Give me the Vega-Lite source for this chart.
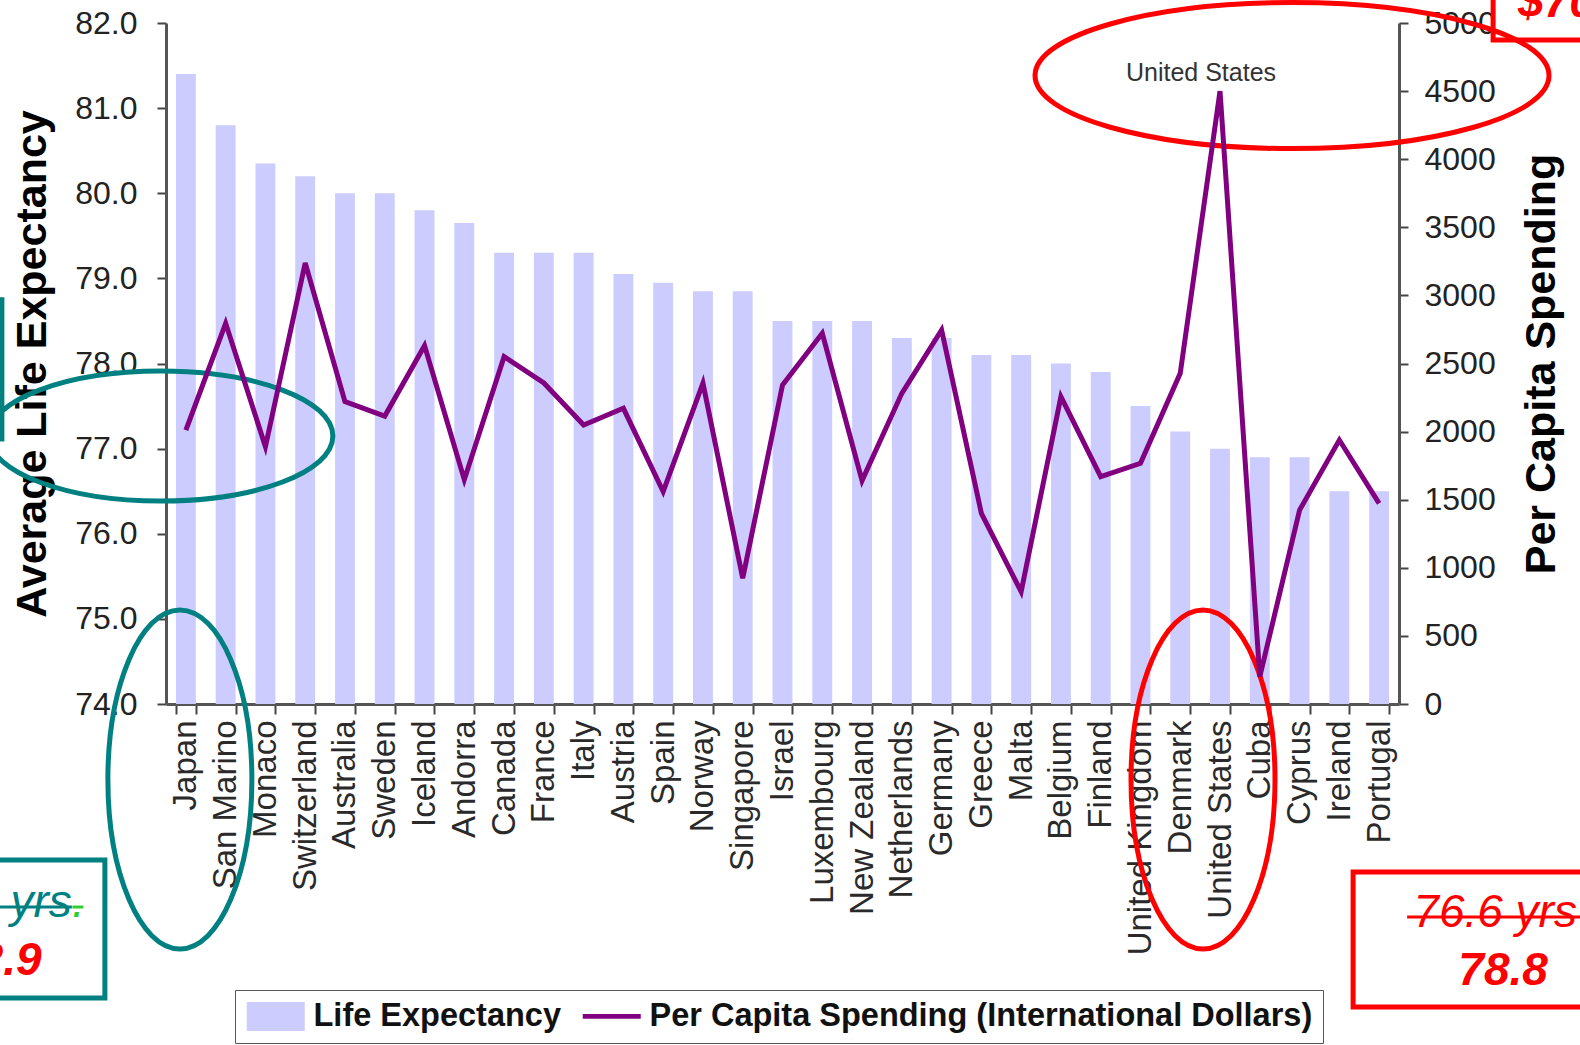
{
  "$schema": "https://vega.github.io/schema/vega-lite/v6.json",
  "width": 1233,
  "height": 681,
  "autosize": {"type": "none"},
  "padding": {"left": 166, "top": 23, "right": 181, "bottom": 341},
  "background": "#ffffff",
  "config": {"view": {"stroke": null}, "font": "Liberation Sans", "axis": {"grid": false}},
  "datasets": {
    "countries": [
      {"country": "Japan", "life": 81.4, "spend": 2010},
      {"country": "San Marino", "life": 80.8, "spend": 2795},
      {"country": "Monaco", "life": 80.35, "spend": 1889},
      {"country": "Switzerland", "life": 80.2, "spend": 3238},
      {"country": "Australia", "life": 80.0, "spend": 2220},
      {"country": "Sweden", "life": 80.0, "spend": 2114},
      {"country": "Iceland", "life": 79.8, "spend": 2631},
      {"country": "Andorra", "life": 79.65, "spend": 1647},
      {"country": "Canada", "life": 79.3, "spend": 2550},
      {"country": "France", "life": 79.3, "spend": 2357},
      {"country": "Italy", "life": 79.3, "spend": 2048},
      {"country": "Austria", "life": 79.05, "spend": 2171},
      {"country": "Spain", "life": 78.95, "spend": 1559},
      {"country": "Norway", "life": 78.85, "spend": 2355},
      {"country": "Singapore", "life": 78.85, "spend": 923},
      {"country": "Israel", "life": 78.5, "spend": 2342},
      {"country": "Luxembourg", "life": 78.5, "spend": 2722},
      {"country": "New Zealand", "life": 78.5, "spend": 1640},
      {"country": "Netherlands", "life": 78.3, "spend": 2281},
      {"country": "Germany", "life": 78.3, "spend": 2746},
      {"country": "Greece", "life": 78.1, "spend": 1400},
      {"country": "Malta", "life": 78.1, "spend": 825},
      {"country": "Belgium", "life": 78.0, "spend": 2256},
      {"country": "Finland", "life": 77.9, "spend": 1669},
      {"country": "United Kingdom", "life": 77.5, "spend": 1767},
      {"country": "Denmark", "life": 77.2, "spend": 2428},
      {"country": "United States", "life": 77.0, "spend": 4500},
      {"country": "Cuba", "life": 76.9, "spend": 200},
      {"country": "Cyprus", "life": 76.9, "spend": 1424},
      {"country": "Ireland", "life": 76.5, "spend": 1938},
      {"country": "Portugal", "life": 76.5, "spend": 1473}
    ]
  },
  "layer": [
    {
      "layer": [
        {
          "data": {"name": "countries"},
          "mark": {"type": "bar", "color": "#CCCCFF"},
          "encoding": {
            "x": {
              "field": "country", "type": "nominal", "sort": null, "title": null,
              "scale": {
                "domain": ["Japan","San Marino","Monaco","Switzerland","Australia","Sweden","Iceland","Andorra","Canada","France","Italy","Austria","Spain","Norway","Singapore","Israel","Luxembourg","New Zealand","Netherlands","Germany","Greece","Malta","Belgium","Finland","United Kingdom","Denmark","United States","Cuba","Cyprus","Ireland","Portugal"],
                "paddingInner": 0.5, "paddingOuter": 0.25
              },
              "axis": {
                "labelAngle": -90, "labelFontSize": 33, "labelColor": "#2a2a2a",
                "labelPadding": 6, "labelLimit": 400, "labelOverlap": false,
                "tickBand": "extent", "tickSize": 10, "tickWidth": 2, "tickColor": "#444444",
                "domainColor": "#555555", "domainWidth": 3
              }
            },
            "y": {
              "field": "life", "type": "quantitative", "title": "Average Life Expectancy",
              "scale": {"domain": [74, 82], "zero": false, "nice": false},
              "axis": {
                "orient": "left", "titleFontSize": 43, "titleFontWeight": "bold",
                "titleColor": "#000000", "titlePadding": 20,
                "values": [74, 75, 76, 77, 78, 79, 80, 81, 82], "format": ".1f",
                "labelFontSize": 32, "labelColor": "#222222", "labelPadding": 20,
                "tickSize": 9, "tickWidth": 2, "tickColor": "#444444",
                "domainColor": "#555555", "domainWidth": 3
              }
            },
            "y2": {"datum": 74},
            "color": {
              "datum": "Life Expectancy",
              "scale": {"domain": ["Life Expectancy", "Per Capita Spending (International Dollars)"], "range": ["#CCCCFF", "#800080"]},
              "legend": {
                "title": null, "orient": "none", "legendX": 69, "legendY": 967, "direction": "horizontal",
                "labelFontSize": 32.5, "labelFontWeight": "bold", "labelColor": "#111111", "labelLimit": 900,
                "symbolSize": 841, "labelOffset": 36, "columnPadding": 20, "padding": 10,
                "strokeColor": "#555555", "fillColor": "#ffffff",
                "encode": {
                  "symbols": {
                    "update": {
                      "shape": {"signal": "datum.value === 'Life Expectancy' ? 'M-1,-1L3,-1L3,1L-1,1Z' : 'M-1,-0.17L3,-0.17L3,0.17L-1,0.17Z'"},
                      "fill": {"signal": "datum.value === 'Life Expectancy' ? '#CCCCFF' : '#800080'"},
                      "fillOpacity": {"value": 1},
                      "strokeWidth": {"value": 0},
                      "opacity": {"value": 1}
                    }
                  }
                }
              }
            }
          }
        },
        {
          "data": {"values": [{"country": "United States", "life": 81.32, "label": "United States"}]},
          "mark": {"type": "text", "fontSize": 25, "color": "#333333", "align": "center", "baseline": "alphabetic", "dx": -19},
          "encoding": {
            "x": {"field": "country", "type": "nominal", "title": null},
            "y": {"field": "life", "type": "quantitative", "title": "Average Life Expectancy"},
            "text": {"field": "label"}
          }
        },
        {
          "data": {"values": [{"country": "United States", "life": 81.382}]},
          "mark": {"type": "point", "shape": "M-1,0C-1,-0.157,-0.552,-0.284,0,-0.284C0.552,-0.284,1,-0.157,1,0C1,0.157,0.552,0.284,0,0.284C-0.552,0.284,-1,0.157,-1,0Z", "size": 264196, "filled": false, "stroke": "#FF0000", "strokeWidth": 5, "opacity": 1, "xOffset": 72},
          "encoding": {"x": {"field": "country", "type": "nominal", "title": null}, "y": {"field": "life", "type": "quantitative", "title": "Average Life Expectancy"}}
        },
        {
          "data": {"values": [{"country": "Japan", "life": 77.148}]},
          "mark": {"type": "point", "shape": "M-1,0C-1,-0.209,-0.552,-0.378,0,-0.378C0.552,-0.378,1,-0.209,1,0C1,0.209,0.552,0.378,0,0.378C-0.552,0.378,-1,0.209,-1,0Z", "size": 118336, "filled": false, "stroke": "#008080", "strokeWidth": 5, "opacity": 1, "xOffset": -25},
          "encoding": {"x": {"field": "country", "type": "nominal", "title": null}, "y": {"field": "life", "type": "quantitative", "title": "Average Life Expectancy"}}
        },
        {
          "data": {"values": [{"country": "Japan", "life": 73.113}]},
          "mark": {"type": "point", "shape": "M-1,0C-1,-1.3,-0.552,-2.354,0,-2.354C0.552,-2.354,1,-1.3,1,0C1,1.3,0.552,2.354,0,2.354C-0.552,2.354,-1,1.3,-1,0Z", "size": 20736, "filled": false, "stroke": "#008080", "strokeWidth": 5, "opacity": 1, "xOffset": -6},
          "encoding": {"x": {"field": "country", "type": "nominal", "title": null}, "y": {"field": "life", "type": "quantitative", "title": "Average Life Expectancy"}}
        },
        {
          "data": {"values": [{"country": "United States", "life": 73.113}]},
          "mark": {"type": "point", "shape": "M-1,0C-1,-1.3,-0.552,-2.354,0,-2.354C0.552,-2.354,1,-1.3,1,0C1,1.3,0.552,2.354,0,2.354C-0.552,2.354,-1,1.3,-1,0Z", "size": 20736, "filled": false, "stroke": "#FF0000", "strokeWidth": 5, "opacity": 1, "xOffset": -17},
          "encoding": {"x": {"field": "country", "type": "nominal", "title": null}, "y": {"field": "life", "type": "quantitative", "title": "Average Life Expectancy"}}
        },
        {
          "data": {"values": [{"country": "Portugal", "life": 71.233}]},
          "mark": {"type": "point", "shape": "M-1,-0.459L1,-0.459L1,0.459L-1,0.459Z", "size": 86436, "filled": false, "stroke": "#FF0000", "strokeWidth": 5, "opacity": 1, "xOffset": 121},
          "encoding": {"x": {"field": "country", "type": "nominal", "title": null}, "y": {"field": "life", "type": "quantitative", "title": "Average Life Expectancy"}}
        },
        {
          "data": {"values": [{"country": "Portugal", "life": 71.38, "label": "76.6 yrs"}]},
          "mark": {"type": "text", "fontSize": 46, "fontStyle": "italic", "color": "#FF0000", "align": "center", "baseline": "alphabetic", "dx": 116},
          "encoding": {"x": {"field": "country", "type": "nominal", "title": null}, "y": {"field": "life", "type": "quantitative", "title": "Average Life Expectancy"}, "text": {"field": "label"}}
        },
        {
          "data": {"values": [{"country": "Portugal", "life": 71.498}]},
          "mark": {"type": "point", "shape": "M-1,0L1,0", "size": 30976, "filled": false, "stroke": "#FF0000", "strokeWidth": 3, "opacity": 1, "xOffset": 116},
          "encoding": {"x": {"field": "country", "type": "nominal", "title": null}, "y": {"field": "life", "type": "quantitative", "title": "Average Life Expectancy"}}
        },
        {
          "data": {"values": [{"country": "Portugal", "life": 70.699, "label": "78.8"}]},
          "mark": {"type": "text", "fontSize": 46, "fontStyle": "italic", "fontWeight": "bold", "color": "#FF0000", "align": "center", "baseline": "alphabetic", "dx": 124},
          "encoding": {"x": {"field": "country", "type": "nominal", "title": null}, "y": {"field": "life", "type": "quantitative", "title": "Average Life Expectancy"}, "text": {"field": "label"}}
        },
        {
          "data": {"values": [{"country": "Japan", "life": 71.357}]},
          "mark": {"type": "point", "shape": "M-1,-0.633L1,-0.633L1,0.633L-1,0.633Z", "size": 47524, "filled": false, "stroke": "#008080", "strokeWidth": 5, "opacity": 1, "xOffset": -190},
          "encoding": {"x": {"field": "country", "type": "nominal", "title": null}, "y": {"field": "life", "type": "quantitative", "title": "Average Life Expectancy"}}
        },
        {
          "data": {"values": [{"country": "Japan", "life": 71.498, "label": "81.4 yrs"}]},
          "mark": {"type": "text", "fontSize": 46, "fontStyle": "italic", "color": "#008080", "align": "right", "baseline": "alphabetic", "dx": -114},
          "encoding": {"x": {"field": "country", "type": "nominal", "title": null}, "y": {"field": "life", "type": "quantitative", "title": "Average Life Expectancy"}, "text": {"field": "label"}}
        },
        {
          "data": {"values": [{"country": "Japan", "life": 71.498, "label": "."}]},
          "mark": {"type": "text", "fontSize": 46, "fontStyle": "italic", "color": "#33CC33", "align": "left", "baseline": "alphabetic", "dx": -114},
          "encoding": {"x": {"field": "country", "type": "nominal", "title": null}, "y": {"field": "life", "type": "quantitative", "title": "Average Life Expectancy"}, "text": {"field": "label"}}
        },
        {
          "data": {"values": [{"country": "Japan", "life": 71.615}]},
          "mark": {"type": "point", "shape": "M-1,0L1,0", "size": 29584, "filled": false, "stroke": "#008080", "strokeWidth": 3, "opacity": 1, "xOffset": -200},
          "encoding": {"x": {"field": "country", "type": "nominal", "title": null}, "y": {"field": "life", "type": "quantitative", "title": "Average Life Expectancy"}}
        },
        {
          "data": {"values": [{"country": "Japan", "life": 71.615}]},
          "mark": {"type": "point", "shape": "M-1,0L1,0", "size": 121, "filled": false, "stroke": "#33CC33", "strokeWidth": 3, "opacity": 1, "xOffset": -108},
          "encoding": {"x": {"field": "country", "type": "nominal", "title": null}, "y": {"field": "life", "type": "quantitative", "title": "Average Life Expectancy"}}
        },
        {
          "data": {"values": [{"country": "Japan", "life": 70.816, "label": "82.9"}]},
          "mark": {"type": "text", "fontSize": 46, "fontStyle": "italic", "fontWeight": "bold", "color": "#FF0000", "align": "center", "baseline": "alphabetic", "dx": -189},
          "encoding": {"x": {"field": "country", "type": "nominal", "title": null}, "y": {"field": "life", "type": "quantitative", "title": "Average Life Expectancy"}, "text": {"field": "label"}}
        },
        {
          "data": {"values": [{"country": "Japan", "life": 77.93}]},
          "mark": {"type": "point", "shape": "M-1,-0.633L1,-0.633L1,0.633L-1,0.633Z", "size": 48400, "filled": false, "stroke": "#008080", "strokeWidth": 5, "opacity": 1, "xOffset": -294},
          "encoding": {"x": {"field": "country", "type": "nominal", "title": null}, "y": {"field": "life", "type": "quantitative", "title": "Average Life Expectancy"}}
        },
        {
          "data": {"values": [{"country": "Portugal", "life": 82.593}]},
          "mark": {"type": "point", "shape": "M-1,-0.459L1,-0.459L1,0.459L-1,0.459Z", "size": 86436, "filled": false, "stroke": "#FF0000", "strokeWidth": 5, "opacity": 1, "xOffset": 261},
          "encoding": {"x": {"field": "country", "type": "nominal", "title": null}, "y": {"field": "life", "type": "quantitative", "title": "Average Life Expectancy"}}
        },
        {
          "data": {"values": [{"country": "Portugal", "life": 82.07, "label": "$7000"}]},
          "mark": {"type": "text", "fontSize": 46, "fontStyle": "italic", "fontWeight": "bold", "color": "#FF0000", "align": "left", "baseline": "alphabetic", "dx": 139},
          "encoding": {"x": {"field": "country", "type": "nominal", "title": null}, "y": {"field": "life", "type": "quantitative", "title": "Average Life Expectancy"}, "text": {"field": "label"}}
        }
      ]
    },
    {
      "data": {"name": "countries"},
      "mark": {"type": "line", "strokeWidth": 5, "strokeJoin": "miter"},
      "encoding": {
        "x": {"field": "country", "type": "nominal", "sort": null, "title": null},
        "y": {
          "field": "spend", "type": "quantitative", "title": "Per Capita Spending",
          "scale": {"domain": [0, 5000], "nice": false},
          "axis": {
            "orient": "right", "titleFontSize": 43, "titleFontWeight": "bold",
            "titleColor": "#000000", "titleAngle": 270, "titlePadding": 68,
            "values": [0, 500, 1000, 1500, 2000, 2500, 3000, 3500, 4000, 4500, 5000], "format": "d",
            "labelFontSize": 32, "labelColor": "#222222", "labelPadding": 16,
            "tickSize": 9, "tickWidth": 2, "tickColor": "#444444",
            "domainColor": "#555555", "domainWidth": 3
          }
        },
        "color": {"datum": "Per Capita Spending (International Dollars)"}
      }
    }
  ],
  "resolve": {"scale": {"y": "independent"}}
}
